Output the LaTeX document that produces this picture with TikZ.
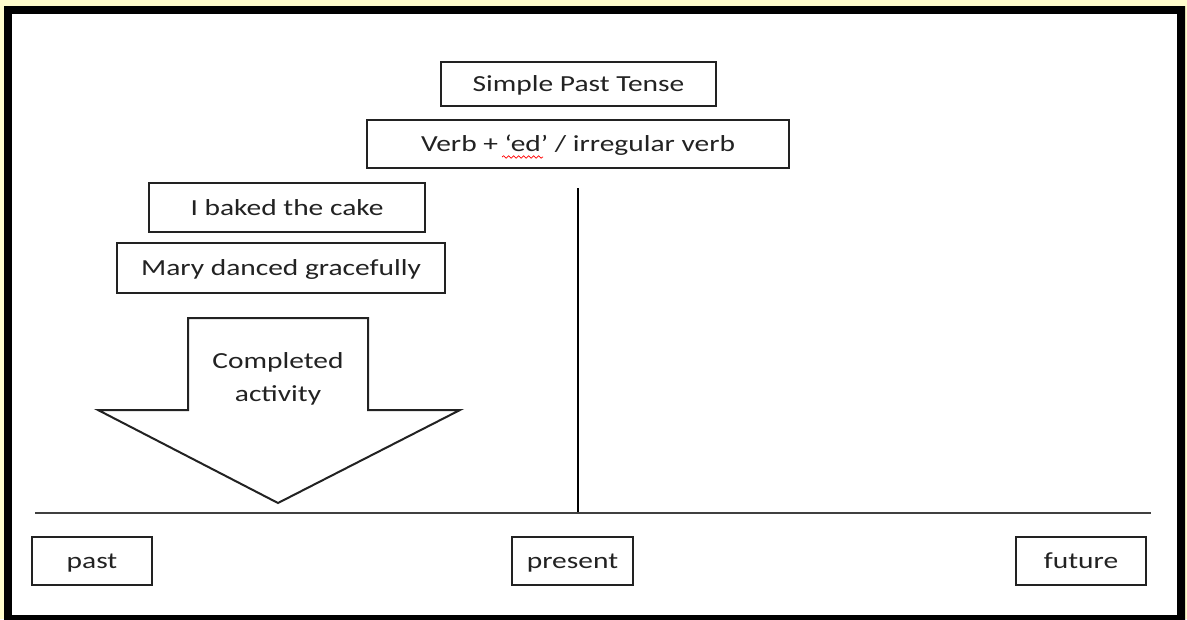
\documentclass[tikz,border=0pt]{standalone}
\usepackage{fontspec}
\setmainfont{Carlito}[FakeStretch=1.28]
\usetikzlibrary{decorations.pathmorphing}
\definecolor{bgyellow}{HTML}{FFFCCC}
\definecolor{ink}{HTML}{222222}
\begin{document}
\begin{tikzpicture}[x=1pt,y=-1pt,
  box/.style={draw=ink, line width=1.4pt, fill=white, inner sep=0pt, text=ink,
    text height=20pt, text depth=5pt,
    font=\fontsize{23}{28}\selectfont},
  axis/.style={line width=1.4pt, draw=black!75}]
\useasboundingbox (0,0) rectangle (1187,619);
\fill[bgyellow] (0,0) rectangle (1187,619);
\fill[black, even odd rule] (4,6) rectangle (1185,625) (12,14) rectangle (1177,615);
\fill[white] (12,14) rectangle (1177,615);
% title boxes
\node[box, minimum width=275pt, minimum height=44pt] (spt) at (578.5,84) {Simple Past Tense};
\node[box, minimum width=422pt, minimum height=48pt] (verb) at (578,144) {Verb + ‘ed’ / irregular verb};
\draw[red, line width=0.7pt, decorate, decoration={snake, amplitude=1.2pt, segment length=5pt}] (502,157) -- (543,157);
% examples
\node[box, minimum width=276pt, minimum height=49pt] (baked) at (287,207.5) {I baked the cake};
\node[box, minimum width=328pt, minimum height=50pt] (mary) at (281,268) {Mary danced gracefully};
% arrow
\draw[ink, line width=2pt, fill=white, line join=miter]
  (188,318) -- (368,318) -- (368,410) -- (460,410) -- (278,503) -- (98,410) -- (188,410) -- cycle;
\node[align=center, text=ink, font=\fontsize{23}{33}\selectfont] (done) at (278,379) {Completed\\activity};
% lines
\coordinate (vtop) at (578,188);
\coordinate (vbot) at (578,512);
\draw[line width=1.4pt, black] (vtop) -- (vbot);
\coordinate (tl) at (35,513);
\coordinate (tr) at (1151,513);
\draw[axis] (tl) -- (tr);
% time labels
\node[box, minimum width=120pt, minimum height=48pt] (past) at (92,561) {past};
\node[box, minimum width=121pt, minimum height=48pt] (present) at (572.5,561) {present};
\node[box, minimum width=130pt, minimum height=48pt] (future) at (1081,561) {future};
\end{tikzpicture}
\end{document}
